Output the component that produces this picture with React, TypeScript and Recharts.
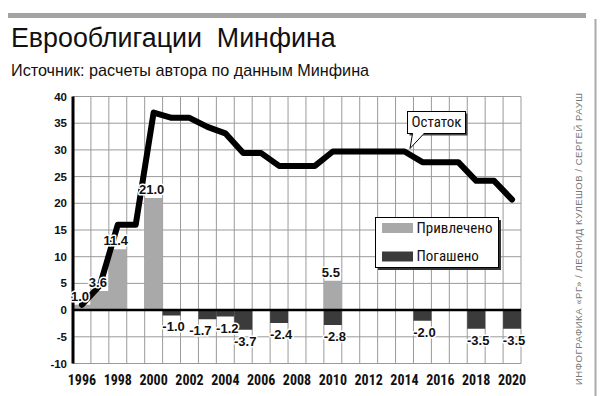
import React from 'react';
import {
  ComposedChart,
  Bar,
  Line,
  XAxis,
  YAxis,
  CartesianGrid,
  ReferenceLine,
  Legend,
} from 'recharts';

// -----------------------------------------------------------------------------
// Data (млрд долл.)
// -----------------------------------------------------------------------------
const years = [
  '1996', '1997', '1998', '1999', '2000', '2001', '2002', '2003', '2004',
  '2005', '2006', '2007', '2008', '2009', '2010', '2011', '2012', '2013',
  '2014', '2015', '2016', '2017', '2018', '2019', '2020',
];

// Привлечено
const raised: (number | null)[] = [
  1.0, 3.6, 11.4, null, 21.0, null, null, null, null, null, null, null, null,
  null, 5.5, null, null, null, null, null, null, null, null, null, null,
];

// Погашено
const repaid: (number | null)[] = [
  null, null, null, null, null, -1.0, null, -1.7, -1.2, -3.7, null, -2.4, null,
  null, -2.8, null, null, null, null, -2.0, null, null, -3.5, null, -3.5,
];

// Остаток
const balance = [
  1.0, 4.6, 16.0, 16.0, 37.0, 36.0, 36.0, 34.3, 33.1, 29.4, 29.4, 27.0, 27.0,
  27.0, 29.7, 29.7, 29.7, 29.7, 29.7, 27.7, 27.7, 27.7, 24.2, 24.2, 20.7,
];

const yTicks = [-10, -5, 0, 5, 10, 15, 20, 25, 30, 35, 40];
const CALLOUT_YEAR = '2014';
const LEGEND_ORDER = ['raised', 'repaid'];

const data = years.map((year, i) => ({
  year,
  raised: raised[i],
  repaid: repaid[i],
  balance: balance[i],
  raisedLabel: raised[i],
  repaidLabel: repaid[i],
}));

// -----------------------------------------------------------------------------
// Styles
// -----------------------------------------------------------------------------
const FONT = '"Liberation Sans", Arial, Helvetica, sans-serif';
const NARROW = '"Liberation Sans Narrow", "Arial Narrow", "Roboto Condensed", "DejaVu Sans Condensed", sans-serif';
const LIGHT = '#a9a9a9';
const DARK = '#3b3b3b';
const GRID = '#9a9a9a';

const yTickStyle = { fontSize: 11.5, fontWeight: 700, fill: '#111', fontFamily: FONT };
const xTickStyle = { fontSize: 14, fontWeight: 700, fill: '#111', fontFamily: NARROW };

// value labels on top of bars (drawn above the line, with white halo)
const makeValueLabel = (series: (number | null)[]) => (props: any) => {
  const { index } = props;
  const value = series[index];
  if (value == null) return null;
  const x = props.x ?? props.viewBox?.x;
  const y = props.y ?? props.viewBox?.y;
  let dx = value > 0 ? -2 : 2;
  if (value < 0) {
    const next = series[index + 1];
    if (next != null && next < 0 && Math.abs(next - value) < 1) dx = -7;
  }
  const ty = value > 0 ? y - 4 : y + 16;
  return (
    <text
      key={`lbl-${index}`}
      x={x + dx}
      y={ty}
      textAnchor="middle"
      fontSize={13}
      fontWeight={700}
      fontFamily={FONT}
      fill="#111"
      stroke="#fff"
      strokeWidth={3}
      strokeLinejoin="round"
      paintOrder="stroke"
    >
      {value.toFixed(1)}
    </text>
  );
};

// "Остаток" callout pointing at the line
const renderCallout = (props: any) => {
  if (years[props.index] !== CALLOUT_YEAR) return null;
  const x = props.x ?? props.viewBox?.x;
  const y = props.y ?? props.viewBox?.y;
  const bx = x + 3;
  const by = y - 40;
  const bw = 58;
  const bh = 22;
  return (
    <g key="callout">
      <rect x={bx + 2} y={by + 2} width={bw} height={bh} fill="#444" />
      <rect x={bx} y={by} width={bw} height={bh} fill="#fff" stroke="#000" strokeWidth={1} />
      <path
        d={`M${x + 8},${by + bh} L${x + 5.5},${y - 3} L${x + 19.5},${by + bh}`}
        fill="#fff"
        stroke="#000"
        strokeWidth={1}
      />
      <line x1={x + 8.6} x2={x + 18.8} y1={by + bh} y2={by + bh} stroke="#fff" strokeWidth={1.5} />
      <text
        x={bx + bw / 2}
        y={y - 25}
        textAnchor="middle"
        fontSize={15}
        fontFamily={NARROW}
        fill="#111"
      >
        Остаток
      </text>
    </g>
  );
};

const renderLegend = (props: any) => {
  const items = (props.payload || [])
    .filter((p: any) => LEGEND_ORDER.includes(p.dataKey))
    .sort((a: any, b: any) => LEGEND_ORDER.indexOf(a.dataKey) - LEGEND_ORDER.indexOf(b.dataKey));
  return (
    <svg width={128} height={54} style={{ display: 'block' }}>
      <rect x={3} y={3} width={123} height={50} fill="#333" />
      <rect x={0.5} y={0.5} width={123} height={50} fill="#fff" stroke="#000" />
      {items.map((item: any, i: number) => (
        <g key={item.value}>
          <rect x={7} y={6 + i * 28.5} width={31} height={10} fill={item.color} />
          <text x={41.5} y={16 + i * 28} fontSize={15} fontFamily={NARROW} fill="#111">
            {item.value}
          </text>
        </g>
      ))}
    </svg>
  );
};

export default function App() {
  return (
    <div
      style={{
        position: 'absolute',
        left: 0,
        top: 0,
        width: 600,
        height: 396,
        background: '#fff',
        fontFamily: FONT,
      }}
    >
      <svg width={600} height={396} style={{ position: 'absolute', left: 0, top: 0 }}>
        <rect x={8} y={13} width={578} height={5} fill="#a3a3a3" />
        <line x1={595.5} x2={595.5} y1={19} y2={396} stroke="#aaa" strokeWidth={2} />
        <text x={11} y={47} fontSize={26.8} fontFamily={FONT} fill="#111" style={{ whiteSpace: 'pre' }}>
          Еврооблигации  Минфина
        </text>
        <text x={11} y={76} fontSize={16.2} fontFamily={FONT} fill="#111">
          Источник: расчеты автора по данным Минфина
        </text>
        <text
          x={578.5}
          y={239}
          transform="rotate(-90 578.5 239)"
          textAnchor="middle"
          dominantBaseline="central"
          fontSize={9.5}
          fontFamily={FONT}
          fill="#777"
          textLength={292}
          lengthAdjust="spacing"
        >
          ИНФОГРАФИКА «РГ» / ЛЕОНИД КУЛЕШОВ / СЕРГЕЙ РАУШ
        </text>
      </svg>

      <div style={{ position: 'absolute', left: 0, top: 0 }}>
        <ComposedChart
          width={600}
          height={396}
          data={data}
          stackOffset="sign"
          barCategoryGap={0}
          margin={{ top: 96.5, right: 79, bottom: 2.5, left: 0 }}
        >
          <CartesianGrid
            stroke={GRID}
            strokeWidth={1}
            verticalCoordinatesGenerator={({ offset }: any) =>
              Array.from({ length: years.length + 1 }, (_, i) => offset.left + (i * offset.width) / years.length)
            }
          />
          <XAxis
            dataKey="year"
            interval={1}
            tickLine={false}
            axisLine={false}
            tickSize={6}
            tickMargin={6}
            tick={xTickStyle}
          />
          <YAxis
            type="number"
            domain={[-10, 40]}
            ticks={yTicks}
            interval={0}
            width={73}
            tickLine={false}
            tickSize={6}
            tickMargin={0}
            axisLine={{ stroke: '#000', strokeWidth: 3 }}
            tick={yTickStyle}
            allowDataOverflow
          />
          <Legend
            layout="vertical"
            align="center"
            verticalAlign="middle"
            wrapperStyle={{ left: 375, top: 217 }}
            content={renderLegend}
          />
          <Bar dataKey="raised" name="Привлечено" stackId="a" fill={LIGHT} isAnimationActive={false} />
          <Bar dataKey="repaid" name="Погашено" stackId="a" fill={DARK} isAnimationActive={false} />
          <ReferenceLine y={0} stroke="#000" strokeWidth={2.5} />
          <Line
            dataKey="balance"
            name="Остаток"
            type="linear"
            stroke="#000"
            strokeWidth={6}
            strokeLinecap="round"
            strokeLinejoin="round"
            dot={false}
            activeDot={false}
            legendType="none"
            label={renderCallout}
            isAnimationActive={false}
          />
          <Line
            dataKey="raisedLabel"
            stroke="none"
            dot={false}
            activeDot={false}
            legendType="none"
            label={makeValueLabel(raised)}
            isAnimationActive={false}
          />
          <Line
            dataKey="repaidLabel"
            stroke="none"
            dot={false}
            activeDot={false}
            legendType="none"
            label={makeValueLabel(repaid)}
            isAnimationActive={false}
          />
        </ComposedChart>
      </div>
    </div>
  );
}
